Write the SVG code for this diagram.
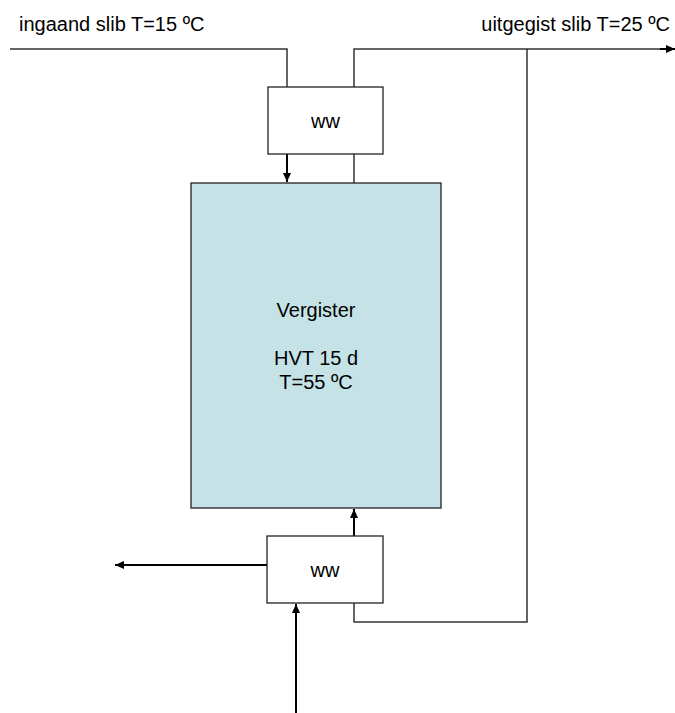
<svg xmlns="http://www.w3.org/2000/svg" width="675" height="713" viewBox="0 0 675 713">
<style>
text{font-family:"Liberation Sans",Arial,sans-serif;font-size:20px;fill:#000}
.box{fill:#fff;stroke:#222;stroke-width:1.3}
.line{fill:none;stroke:#333;stroke-width:1.5}
.arr{fill:none;stroke:#000;stroke-width:2;marker-end:url(#ah)}
</style>
<defs>
<marker id="ah" markerWidth="10" markerHeight="10" refX="9" refY="5" orient="auto" markerUnits="userSpaceOnUse">
<path d="M0,1 L9,5 L0,9 Z" fill="#000"/>
</marker>
</defs>
<text x="19" y="31">ingaand slib T=15 ºC</text>
<text x="670" y="31" text-anchor="end">uitgegist slib T=25 ºC</text>
<g id="connectors">
<polyline class="line" points="10,49 287,49 287,87"/>
<path class="arr" d="M287,154 L287,182"/>
<path class="line" d="M354,183 L354,154"/>
<polyline class="line" points="354,87 354,49 666,49"/>
<path class="arr" d="M660,49 L675,49"/>
<polyline class="line" points="527,49 527,622 354,622 354,603"/>
<path class="arr" d="M354,536 L354,509"/>
<path class="arr" d="M267,565 L115,565"/>
<path class="arr" d="M296,713 L296,604"/>
</g>
<g id="ww-top">
<rect class="box" x="268" y="87" width="115" height="67"/>
<text x="325.5" y="128" text-anchor="middle">ww</text>
</g>
<g id="vergister">
<rect x="191" y="183" width="250" height="325" fill="#C5E3E7" stroke="#222" stroke-width="1.3"/>
<text x="316" y="317" text-anchor="middle">Vergister</text>
<text x="316" y="365" text-anchor="middle">HVT 15 d</text>
<text x="316" y="389" text-anchor="middle">T=55 ºC</text>
</g>
<g id="ww-bottom">
<rect class="box" x="267" y="536" width="116" height="67"/>
<text x="325" y="577" text-anchor="middle">ww</text>
</g>
</svg>
